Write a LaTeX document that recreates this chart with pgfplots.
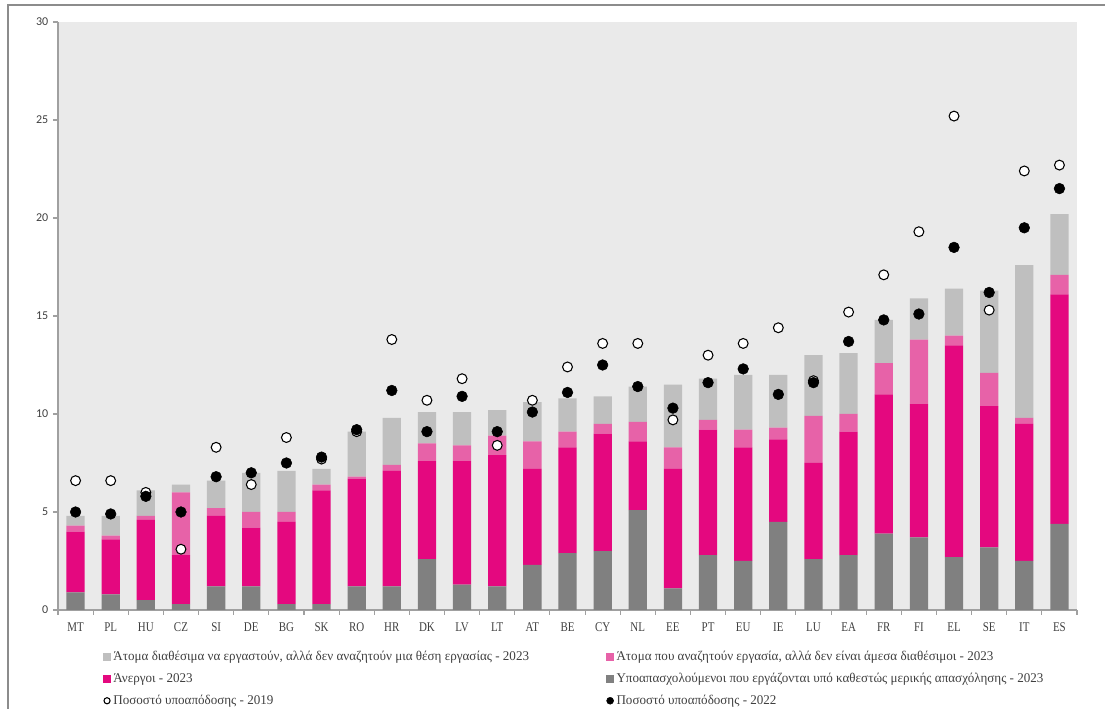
\documentclass[border=0pt]{standalone}
\usepackage{fontspec}
\setmainfont{Liberation Serif}
\newfontfamily\tickfont{Carlito}
\newfontfamily\xfont[FakeStretch=0.82]{Liberation Serif}
\newfontfamily\legfont[FakeStretch=0.98]{Liberation Serif}
\usepackage{pgfplots}
\usepackage{pgfplotstable}
\pgfplotsset{compat=1.18}
\definecolor{dgray}{HTML}{808080}
\definecolor{mag}{HTML}{E4087F}
\definecolor{pinkc}{HTML}{E762A8}
\definecolor{lgray}{HTML}{BFBFBF}
\definecolor{bggray}{HTML}{EAEAEA}
\definecolor{axgray}{HTML}{A0A0A0}
\definecolor{txtgray}{HTML}{404040}
\definecolor{framegray}{HTML}{8C8C8C}

\pgfplotstableread{
cat p u s a y19 y22
MT 0.9 3.1 0.3 0.5 6.6 5.0
PL 0.8 2.8 0.2 1.0 6.6 4.9
HU 0.5 4.1 0.2 1.3 6.0 5.8
CZ 0.3 2.5 3.2 0.4 3.1 5.0
SI 1.2 3.6 0.4 1.4 8.3 6.8
DE 1.2 3.0 0.8 2.0 6.4 7.0
BG 0.3 4.2 0.5 2.1 8.8 7.5
SK 0.3 5.8 0.3 0.8 7.7 7.8
RO 1.2 5.5 0.1 2.3 9.1 9.2
HR 1.2 5.9 0.3 2.4 13.8 11.2
DK 2.6 5.0 0.9 1.6 10.7 9.1
LV 1.3 6.3 0.8 1.7 11.8 10.9
LT 1.2 6.7 1.0 1.3 8.4 9.1
AT 2.3 4.9 1.4 2.0 10.7 10.1
BE 2.9 5.4 0.8 1.7 12.4 11.1
CY 3.0 6.0 0.5 1.4 13.6 12.5
NL 5.1 3.5 1.0 1.8 13.6 11.4
EE 1.1 6.1 1.1 3.2 9.7 10.3
PT 2.8 6.4 0.5 2.1 13.0 11.6
EU 2.5 5.8 0.9 2.8 13.6 12.3
IE 4.5 4.2 0.6 2.7 14.4 11.0
LU 2.6 4.9 2.4 3.1 11.7 11.6
EA 2.8 6.3 0.9 3.1 15.2 13.7
FR 3.9 7.1 1.6 2.2 17.1 14.8
FI 3.7 6.8 3.3 2.1 19.3 15.1
EL 2.7 10.8 0.5 2.4 25.2 18.5
SE 3.2 7.2 1.7 4.2 15.3 16.2
IT 2.5 7.0 0.3 7.8 22.4 19.5
ES 4.4 11.7 1.0 3.1 22.7 21.5
}\data

\begin{document}
\begin{tikzpicture}
\useasboundingbox (0,0) rectangle (828.75pt,531.75pt);
\draw[framegray, line width=1.1pt] (6pt,0) -- (6pt,528pt) -- (828.75pt,528pt);
\begin{axis}[
  at={(43.5pt,74.25pt)}, anchor=south west,
  scale only axis, width=764.25pt, height=441pt,
  ybar stacked, bar width=0.52,
  xmin=-0.5, xmax=28.5, ymin=0, ymax=30,
  axis x line=bottom, axis y line=left,
  axis line style={-, draw=axgray, line width=0.9pt},
  axis background/.style={fill=bggray},
  ytick={0,5,...,30},
  xtick={0,...,28},
  xticklabels from table={\data}{cat},
  minor xtick={-0.5,0.5,...,28.5},
  tick align=outside,
  major tick length=3.75pt, minor tick length=3.75pt,
  every major x tick/.append style={draw=none},
  every minor x tick/.append style={draw=axgray, line width=0.8pt},
  every major y tick/.append style={draw=axgray, line width=0.8pt},
  /pgf/number format/assume math mode=true,
  yticklabel style={font=\tickfont\fontsize{9pt}{10pt}\selectfont, text=txtgray},
  xticklabel style={font=\xfont\fontsize{10pt}{12pt}\selectfont, text=txtgray, yshift=-2pt},
  clip=false,
]
\addplot[fill=dgray, draw=none] table[x expr=\coordindex, y=p]{\data};
\addplot[fill=mag, draw=none] table[x expr=\coordindex, y=u]{\data};
\addplot[fill=pinkc, draw=none] table[x expr=\coordindex, y=s]{\data};
\addplot[fill=lgray, draw=none] table[x expr=\coordindex, y=a]{\data};
\end{axis}
\begin{axis}[
  at={(43.5pt,74.25pt)}, anchor=south west,
  scale only axis, width=764.25pt, height=441pt,
  xmin=-0.5, xmax=28.5, ymin=0, ymax=30,
  hide axis, clip=false,
  legend columns=2,
  legend cell align=left,
  legend style={at={(axis description cs:0.0442,-0.0646)}, anchor=north west,
    draw=none, fill=none, inner sep=0pt,
    font=\legfont\fontsize{10pt}{12pt}\selectfont, text=txtgray,
    row sep=4pt,
    /tikz/every even column/.append style={column sep=56pt}},
]
\addlegendimage{legend image code/.code={\fill[lgray] (0pt,-2.6pt) rectangle (5.2pt,2.6pt);}}
\addlegendentry{Άτομα διαθέσιμα να εργαστούν, αλλά δεν αναζητούν μια θέση εργασίας - 2023}
\addlegendimage{legend image code/.code={\fill[pinkc] (0pt,-2.6pt) rectangle (5.2pt,2.6pt);}}
\addlegendentry{Άτομα που αναζητούν εργασία, αλλά δεν είναι άμεσα διαθέσιμοι - 2023}
\addlegendimage{legend image code/.code={\fill[mag] (0pt,-2.6pt) rectangle (5.2pt,2.6pt);}}
\addlegendentry{Άνεργοι - 2023}
\addlegendimage{legend image code/.code={\fill[dgray] (0pt,-2.6pt) rectangle (5.2pt,2.6pt);}}
\addlegendentry{Υποαπασχολούμενοι που εργάζονται υπό καθεστώς μερικής απασχόλησης - 2023}
\addlegendimage{legend image code/.code={\draw[black, fill=white, line width=0.8pt] (2.6pt,0pt) circle (2.3pt);}}
\addlegendentry{Ποσοστό υποαπόδοσης - 2019}
\addlegendimage{legend image code/.code={\fill[black] (2.6pt,0pt) circle (2.6pt);}}
\addlegendentry{Ποσοστό υποαπόδοσης - 2022}
\addplot[only marks, mark=*, mark size=3.7pt, mark options={fill=white, draw=black, line width=0.8pt}] table[x expr=\coordindex, y=y19]{\data};
\addplot[only marks, mark=*, mark size=4pt, mark options={fill=black, draw=black}] table[x expr=\coordindex, y=y22]{\data};
\end{axis}
\end{tikzpicture}
\end{document}
